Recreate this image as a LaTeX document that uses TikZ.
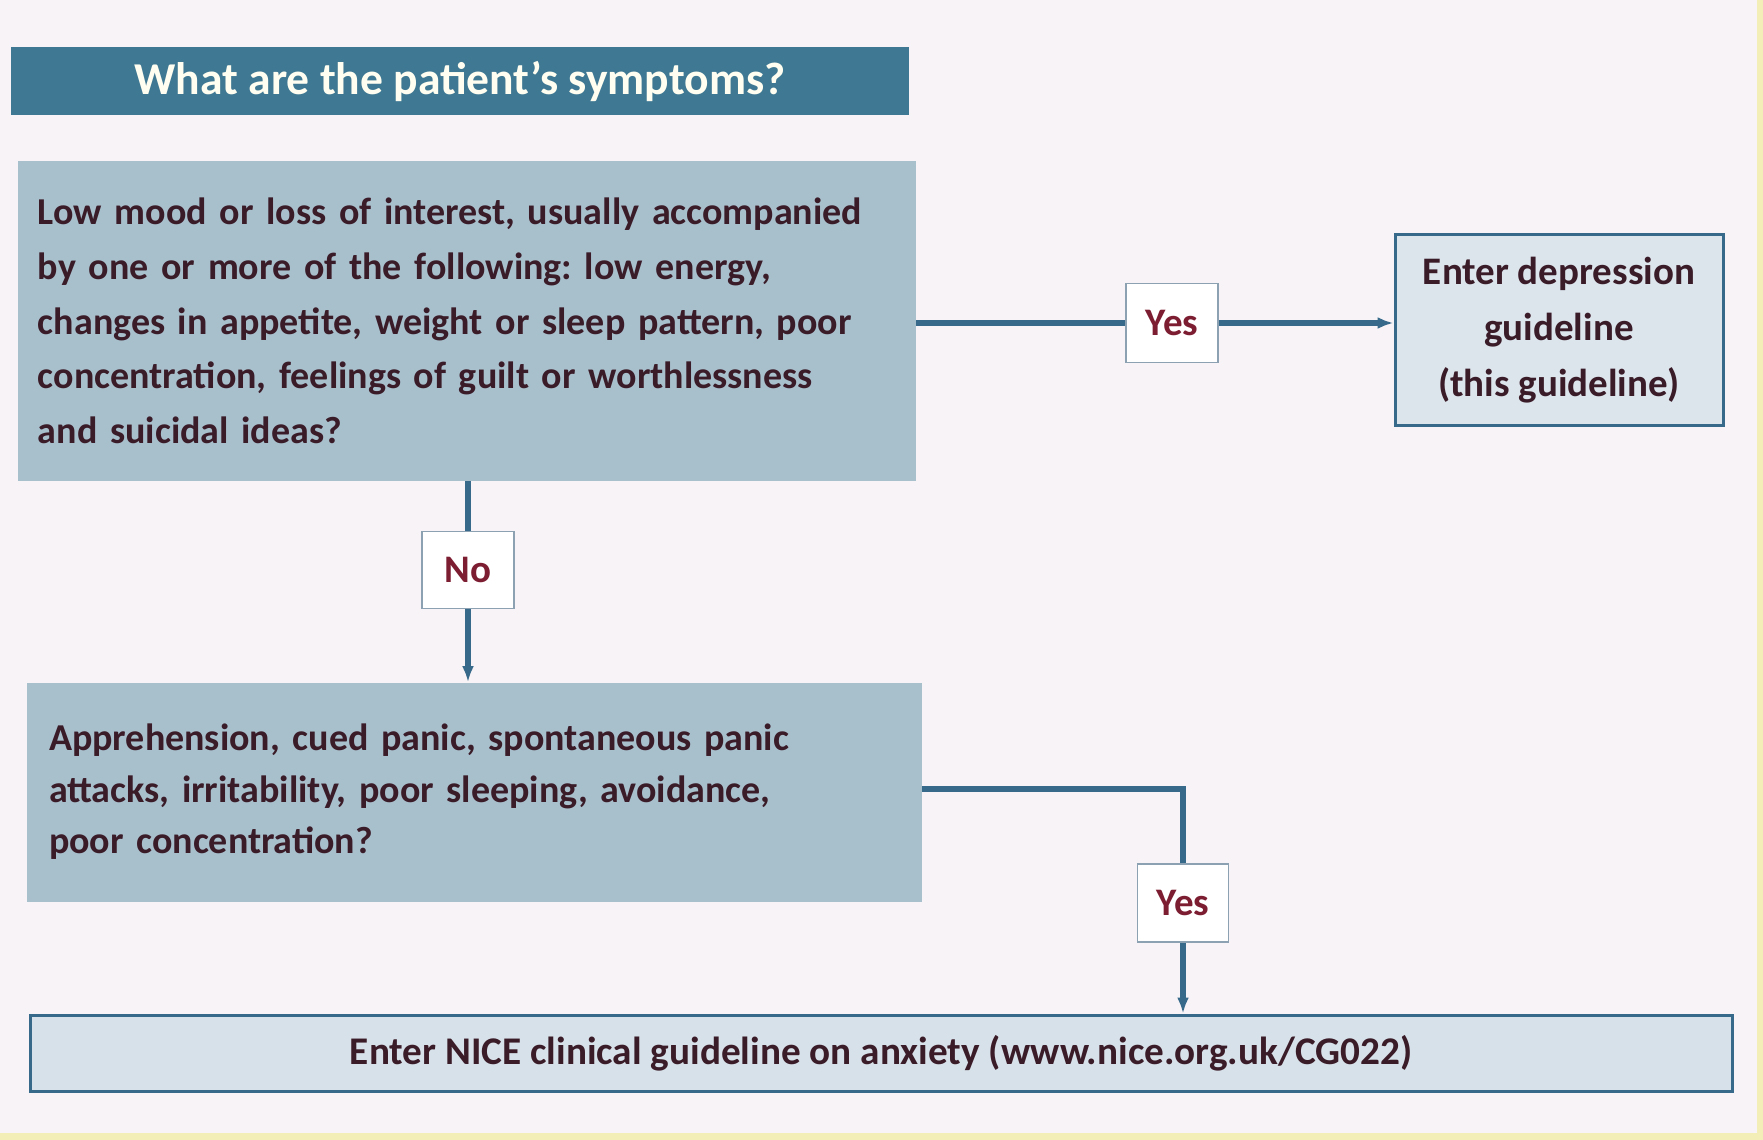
\documentclass[tikz,border=0pt]{standalone}
\usepackage{fontspec}
\setmainfont{Carlito}
\usepackage{xcolor}
\usetikzlibrary{arrows.meta}
\frenchspacing
\definecolor{pagebg}{HTML}{F7F3F6}
\definecolor{hdrblue}{HTML}{3F7893}
\definecolor{qfill}{HTML}{A8BFCC}
\definecolor{endfill}{HTML}{DCE5EC}
\definecolor{lineblue}{HTML}{36698A}
\definecolor{ynborder}{HTML}{8CA2B2}
\definecolor{txtdark}{HTML}{3A1C28}
\definecolor{ynred}{HTML}{7C1D32}
\definecolor{edgeyellow}{HTML}{F3EDB8}

\begin{document}
\begin{tikzpicture}[x=0.5pt,y=-0.5pt]
\tikzstyle{every node}=[font=\bfseries\fontsize{19}{27.3}\selectfont, text=txtdark, inner sep=0pt]
\tikzstyle{qbox}=[fill=qfill, align=left, anchor=center]
\tikzstyle{endbox}=[fill=endfill, draw=lineblue, line width=1.5pt, align=center]
\tikzstyle{ynbox}=[fill=white, draw=ynborder, line width=0.8pt, text=ynred, font=\bfseries\fontsize{19.5}{20}\selectfont]
\tikzstyle{conn}=[draw=lineblue, line width=2.6pt]
% page
\fill[pagebg] (0,0) rectangle (1763,1140);
\fill[edgeyellow] (0,1133) rectangle (1763,1140);
\fill[edgeyellow] (1757,0) rectangle (1763,1140);
\useasboundingbox (0,0) rectangle (1763,1140);
% header
\node[fill=hdrblue, text=white!94!yellow, minimum width=449pt, minimum height=34pt,
  font=\bfseries\fontsize{22.8}{26}\selectfont] (hdr) at (460,81) {What are the patient's symptoms?};
% questions
\node[qbox, inner xsep=10pt, text width=429pt, minimum height=160pt] (dep-q) at (467,321)
  {Low mood or loss of interest, usually accompanied\\
   by one or more of the following: low energy,\\
   changes in appetite, weight or sleep pattern, poor\\
   concentration, feelings of guilt or worthlessness\\
   and suicidal ideas?};
\node[qbox, inner xsep=11pt, text width=425.5pt, minimum height=109.5pt,
  font=\bfseries\fontsize{19}{25.8}\selectfont] (anx-q) at (474.5,792)
  {Apprehension, cued panic, spontaneous panic\\
   attacks, irritability, poor sleeping, avoidance,\\
   poor concentration?};
% outcomes
\node[endbox, minimum width=164pt, minimum height=95.5pt,
  font=\bfseries\fontsize{19.5}{28}\selectfont] (dep-end) at (1559,330)
  {Enter depression\\ guideline\\ (this guideline)};
\node[endbox, fill=endfill!90!qfill, minimum width=851pt, minimum height=38pt,
  font=\bfseries\fontsize{19.6}{22}\selectfont] (anx-end) at (881,1053)
  {Enter NICE clinical guideline on anxiety (www.nice.org.uk/CG022)};
% answers
\node[ynbox, minimum width=46pt, minimum height=39.5pt] (yes1) at (1172,323) {Yes};
\node[ynbox, minimum width=46pt, minimum height=38.5pt] (no) at (468,570) {No};
\node[ynbox, minimum width=45.5pt, minimum height=39pt] (yes2) at (1183,903) {Yes};
% connectors
\path[conn] (yes1.west -| dep-q.east) -- (yes1.west);
\path[conn, -{Latex[length=8pt,width=6pt]}] (yes1.east) -- (yes1.east -| dep-end.west);
\path[conn] (dep-q.south -| no) -- (no.north);
\path[conn, -{Latex[length=8pt,width=6pt]}] (no.south) -- (no |- anx-q.north);
\path[conn] ([yshift=1.5pt]anx-q.east) -| (yes2.north);
\path[conn, -{Latex[length=8pt,width=6pt]}] (yes2.south) -- (yes2 |- anx-end.north);
\end{tikzpicture}
\end{document}
